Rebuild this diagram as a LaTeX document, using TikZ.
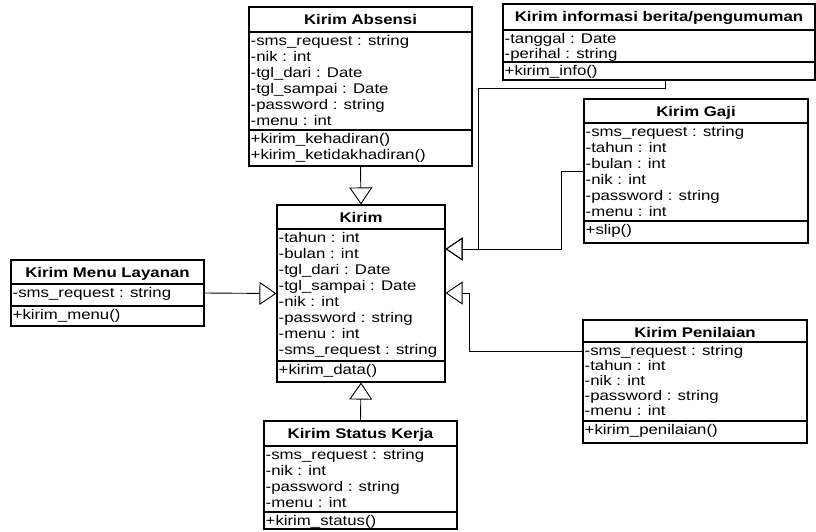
\documentclass[tikz,border=0pt]{standalone}
\usepackage{fontspec}
\setmainfont{Liberation Sans}[FakeStretch=1.2]
\usetikzlibrary{arrows.meta,fit}

\tikzset{
  frame/.style={draw, line width=1.1pt, inner sep=0pt},
  sepline/.style={line width=1.1pt},
  rowtext/.style={inner sep=0pt, anchor=base west, font=\fontsize{14}{16}\selectfont},
  titletext/.style={inner sep=0pt, anchor=base, font=\fontsize{14}{16}\selectfont\bfseries},
  gen/.style={line width=0.9pt, -{Triangle[open, length=17pt, width=23pt, line width=0.9pt]}},
}

% class frame with its two compartment lines and the bold title
% #1 name, #2 left, #3 top, #4 right, #5 title line, #6 attribute line, #7 bottom, #8 title
\newcommand\classbox[8]{%
  \coordinate (#1-nw) at (#2,-#3);
  \coordinate (#1-se) at (#4,-#7);
  \node[frame, fit=(#1-nw)(#1-se)] (#1) {};
  \draw[sepline] (#2,-#5) -- (#4,-#5);
  \draw[sepline] (#2,-#6) -- (#4,-#6);
  \node[titletext] (#1-title) at ({(#2+#4)/2},{-(#3+17)}) {#8};
}
% rows of one compartment: [#1 row pitch], #2 name prefix, #3 left, #4 compartment top, #5 rows
\newcommand\classrows[5][16]{%
  \foreach \r [count=\i from 0] in {#5}
    \node[rowtext] (#2\i) at ({#3+1.5},{-(#4+13.5+#1*\i)}) {\r};
}

\begin{document}
\begin{tikzpicture}[x=1pt,y=1pt]
\useasboundingbox (0,0) rectangle (816,-531);

% Kirim Absensi
\classbox{abs}{249}{7}{472}{32}{130}{166}{Kirim Absensi}
\classrows{abs-a}{249}{32}{-sms\_request : string,-nik : int,-tgl\_dari : Date,-tgl\_sampai : Date,-password : string,-menu : int}
\classrows{abs-m}{249}{130}{+kirim\_kehadiran(),+kirim\_ketidakhadiran()}

% Kirim informasi berita/pengumuman
\classbox{info}{503}{4}{815}{30}{62}{80}{Kirim informasi berita/pengumuman}
\classrows[14.5]{info-a}{503}{30}{-tanggal : Date,-perihal : string}
\classrows{info-m}{503}{61.5}{+kirim\_info()}

% Kirim Gaji
\classbox{gaji}{584}{99}{808}{123}{221}{243}{Kirim Gaji}
\classrows{gaji-a}{584}{123}{-sms\_request : string,-tahun : int,-bulan : int,-nik : int,-password : string,-menu : int}
\classrows{gaji-m}{584}{221}{+slip()}

% Kirim
\classbox{kirim}{277}{205}{445}{229}{361}{382}{Kirim}
\classrows{kirim-a}{277}{229}{-tahun : int,-bulan : int,-tgl\_dari : Date,-tgl\_sampai : Date,-nik : int,-password : string,-menu : int,-sms\_request : string}
\classrows{kirim-m}{277}{361}{+kirim\_data()}

% Kirim Menu Layanan
\classbox{menu}{11}{260}{204}{284}{306}{326}{Kirim Menu Layanan}
\classrows{menu-a}{11}{284}{-sms\_request : string}
\classrows{menu-m}{11}{306}{+kirim\_menu()}

% Kirim Penilaian
\classbox{pen}{583}{320}{807}{342}{421}{443}{Kirim Penilaian}
\classrows[15]{pen-a}{583}{342}{-sms\_request : string,-tahun : int,-nik : int,-password : string,-menu : int}
\classrows{pen-m}{583}{421}{+kirim\_penilaian()}

% Kirim Status Kerja
\classbox{stat}{264}{421}{457}{446}{512}{529}{Kirim Status Kerja}
\classrows{stat-a}{264}{446}{-sms\_request : string,-nik : int,-password : string,-menu : int}
\classrows{stat-m}{264}{511.5}{+kirim\_status()}

% bend points of the routed generalisations
\coordinate (b1) at (478,-88);
\coordinate (b2) at (478,-249);
\coordinate (g1) at (561,-249);
\coordinate (p1) at (469,-293);

% generalisations towards Kirim
\draw[gen] (abs.south) -- (kirim.north);
\draw[gen] (stat.north) -- (kirim.south);
\draw[gen] (menu.east) -- (kirim.west);
\draw[gen] ([xshift=6pt]info.south) |- (b1) -- (b2) -- (kirim.east |- b2);
\draw[gen] (gaji.west) -| (g1) -- (kirim.east |- g1);
\draw[gen] ([yshift=30pt]pen.west) -| (p1) -- (kirim.east |- p1);
\end{tikzpicture}
\end{document}
